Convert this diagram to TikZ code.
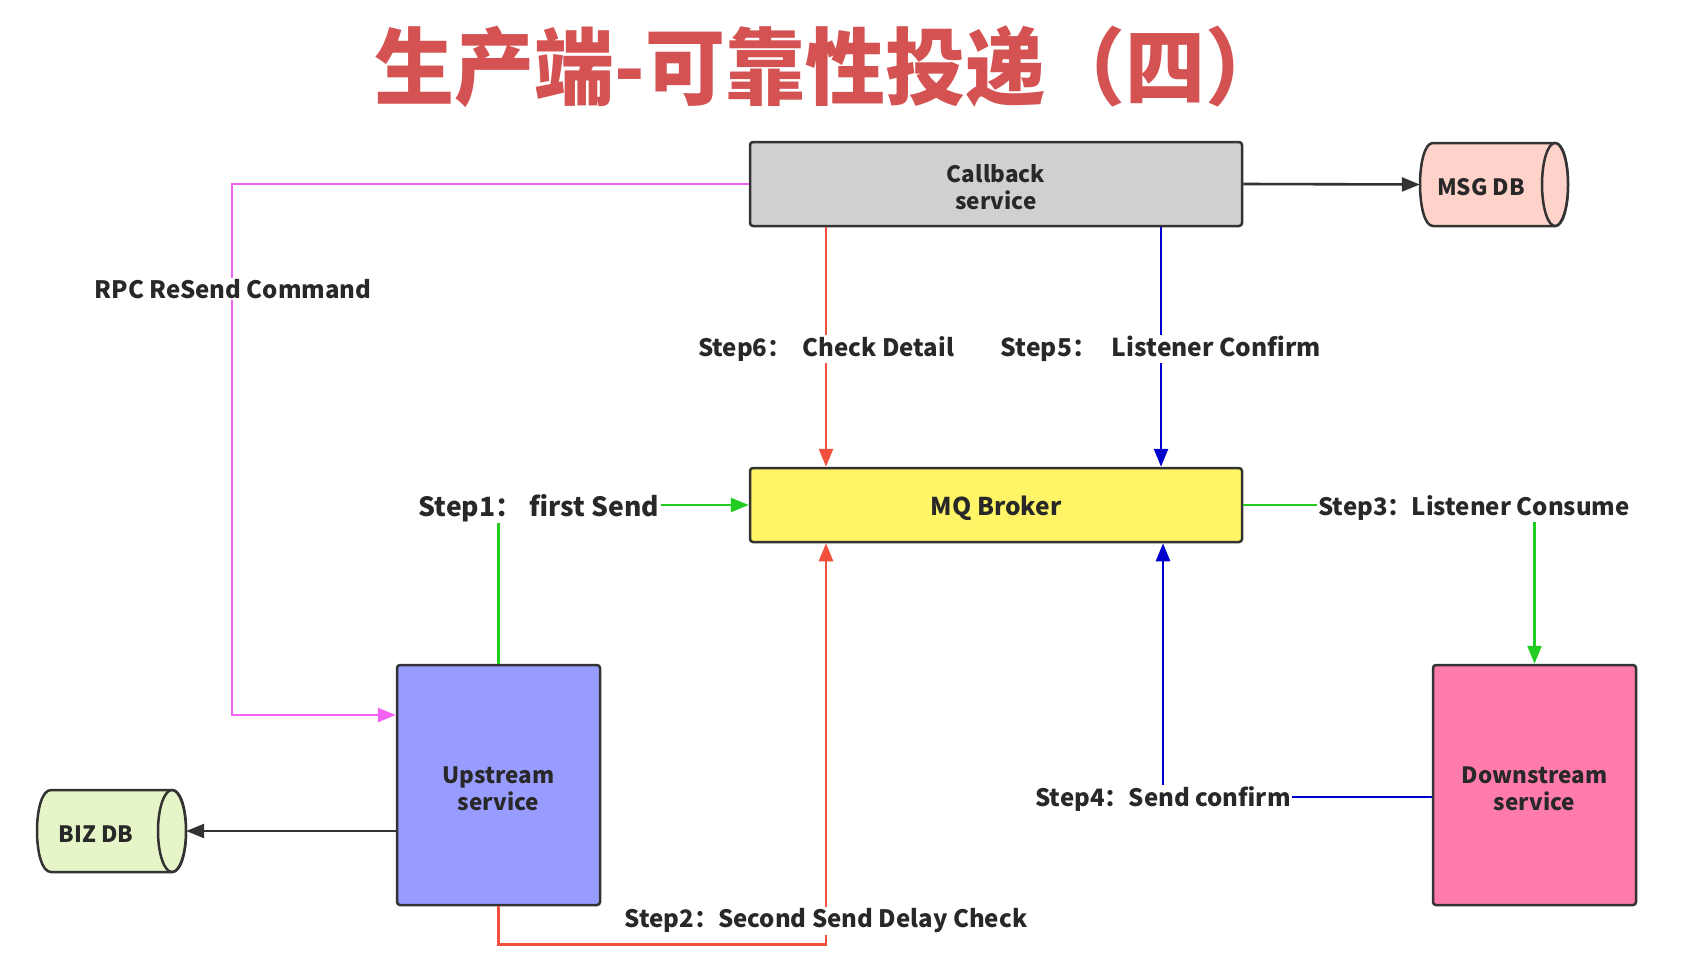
\documentclass[tikz,border=0pt]{standalone}
\usepackage{fontspec}
\setmainfont{Noto Sans CJK SC}
\usetikzlibrary{arrows.meta}
\definecolor{titlered}{RGB}{212,82,82}
\definecolor{boxline}{RGB}{51,51,51}
\definecolor{txt}{RGB}{40,40,40}
\definecolor{cbgray}{RGB}{208,208,208}
\definecolor{msgpink}{RGB}{255,210,202}
\definecolor{mqyellow}{RGB}{255,245,102}
\definecolor{upblue}{RGB}{153,156,255}
\definecolor{dnpink}{RGB}{255,123,172}
\definecolor{bizgreen}{RGB}{230,245,200}
\definecolor{pinkc}{RGB}{242,97,242}
\definecolor{greenc}{RGB}{34,204,34}
\definecolor{redc}{RGB}{240,80,60}
\definecolor{bluec}{RGB}{0,0,204}
\newcommand\boxfont{\bfseries\fontsize{22.5}{27}\selectfont}
\newcommand\mqfont{\bfseries\fontsize{24.5}{27}\selectfont}
\newcommand\labfont{\bfseries\fontsize{24}{28}\selectfont}
\newcommand\midlabfont{\bfseries\fontsize{24.6}{28}\selectfont}
\newcommand\biglabfont{\bfseries\fontsize{26.5}{30}\selectfont}
\begin{document}
\begin{tikzpicture}[x=1pt,y=-1pt,
  box/.style={draw=boxline, line width=2.5pt, rounded corners=3pt, align=center, font=\boxfont, text=txt, inner sep=0pt},
  lab/.style={fill=white, inner sep=1.5pt, font=\labfont, text=txt},
  conn/.style={line width=2.6pt, -{Triangle[length=18pt,width=14pt]}},
  cyl/.style={draw=boxline, line width=2.5pt},
  dbtext/.style={font=\boxfont, text=txt},
]
\fill[white] (0,0) rectangle (1696,958);
\useasboundingbox (0,0) rectangle (1696,958);

% title
\node[text=titlered, font=\bfseries\fontsize{80}{80}\selectfont, yscale=1.05] (title) at (830,67) {生产端-可靠性投递（四）};

% boxes
\node[box, fill=cbgray, minimum width=492pt, minimum height=84pt] (cb) at (996,184) {};
\node[box, fill=mqyellow, minimum width=492pt, minimum height=74pt] (mq) at (996,505) {};
\node[box, fill=upblue, minimum width=203pt, minimum height=240pt] (up) at (498.5,785) {};
\node[box, fill=dnpink, minimum width=203pt, minimum height=240pt] (dn) at (1534.5,785) {};
\node[dbtext, align=center] (cbt) at (996,187.5) {Callback\\service};
\node[font=\mqfont, text=txt] (mqt) at (996,508) {MQ Broker};
\node[dbtext, align=center] (upt) at (498.5,788.5) {Upstream\\service};
\node[dbtext, align=center] (dnt) at (1534.5,788.5) {Downstream\\service};

% MSG DB cylinder
\draw[cyl, fill=msgpink] (1433,143) -- (1555,143) .. controls (1572.3,143) and (1572.3,226) .. (1555,226) -- (1433,226) .. controls (1415.7,226) and (1415.7,143) .. cycle;
\draw[cyl, fill=msgpink] (1555,184.5) ellipse [x radius=13pt, y radius=41.5pt];
\node[minimum width=148pt, minimum height=83pt, inner sep=0pt] (msg) at (1494,184.5) {};
\node[dbtext] (msgt) at (1481,187.5) {MSG DB};

% BIZ DB cylinder
\draw[cyl, fill=bizgreen] (51,790) -- (172,790) .. controls (190.67,790) and (190.67,872) .. (172,872) -- (51,872) .. controls (32.33,872) and (32.33,790) .. cycle;
\draw[cyl, fill=bizgreen] (172,831) ellipse [x radius=14pt, y radius=41pt];
\node[minimum width=149pt, minimum height=82pt, inner sep=0pt] (biz) at (111.5,831) {};
\node[dbtext] (bizt) at (96,834) {BIZ DB};

% connectors
\coordinate (pk) at (232,715);
\draw[conn, pinkc] (cb.west) -| (pk) -- (up.west |- pk);
\draw[conn, boxline] (cb.east) -- (msg.west);
\draw[conn, boxline] (biz.east -| up.west) -- (biz.east);
\draw[conn, redc] ([xshift=-170pt]cb.south) -- ([xshift=-170pt]mq.north);
\draw[conn, bluec] ([xshift=165pt]cb.south) -- ([xshift=165pt]mq.north);
\draw[conn, greenc] (up.north) |- (mq.west);
\draw[conn, greenc] (mq.east) -| (dn.north);
\draw[conn, bluec] ([yshift=-12pt]dn.west) -| ([xshift=167pt]mq.south);
\draw[conn, redc] (up.south) -- ++(0,38) -| ([xshift=-170pt]mq.south);

% labels
\node[lab] (lrpc) at (233,289) {RPC ReSend Command};
\node[lab] (l6) at (826,349) {Step6：\ \ Check Detail};
\node[lab, font=\midlabfont] (l5) at (1161,349) {Step5：\ \ \,Listener Confirm};
\node[lab, font=\biglabfont] (l1) at (539,508) {Step1：\hspace{8pt}first Send};
\node[lab] (l3) at (1474,508) {Step3：Listener Consume};
\node[lab] (l4) at (1163,799) {Step4：Send confirm};
\node[lab] (l2) at (826,921) {Step2：Second Send Delay Check};
\end{tikzpicture}
\end{document}
